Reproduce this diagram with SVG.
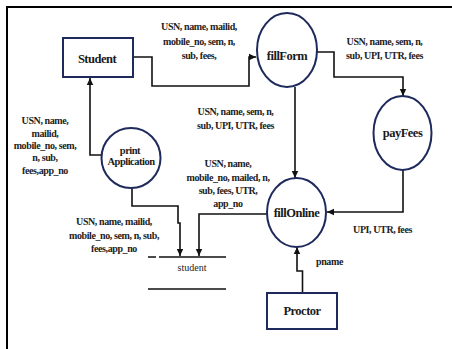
<svg xmlns="http://www.w3.org/2000/svg" width="452" height="349" viewBox="0 0 452 349">
<style>
.frame{stroke:#000;stroke-width:2;fill:none}
.node{fill:#fff;stroke:#1f2a5c;stroke-width:2}
.conn{fill:none;stroke:#111;stroke-width:1.6}
.store{stroke:#111;stroke-width:1.6}
.lbl{font-family:"Liberation Serif",serif;font-weight:bold;font-size:10px;letter-spacing:-0.4px;fill:#222;text-anchor:middle}
.nt{font-family:"Liberation Serif",serif;font-weight:bold;font-size:12.5px;letter-spacing:-0.5px;fill:#1a1a1a;text-anchor:middle}
.nts{font-family:"Liberation Serif",serif;font-weight:bold;font-size:10.5px;letter-spacing:-0.5px;fill:#1a1a1a;text-anchor:middle}
.st{font-family:"Liberation Serif",serif;font-size:10px;fill:#222;text-anchor:middle}
</style>
<defs>
<marker id="arr" markerUnits="userSpaceOnUse" markerWidth="8" markerHeight="8" viewBox="0 0 8 8" refX="7" refY="4" orient="auto">
<path d="M0,0.8 L7,4 L0,7.2 Z" fill="#111"/>
</marker>
</defs>
<rect width="452" height="349" fill="#fff"/>
<path class="frame" d="M7,349 V7 H452"/>

<g id="connectors">
<path class="conn" d="M133,57 H152 V86 H249 V57 H256" marker-end="url(#arr)"/>
<path class="conn" d="M317,52 H334 V77 H403 V96" marker-end="url(#arr)"/>
<path class="conn" d="M295,87 V178" marker-end="url(#arr)"/>
<path class="conn" d="M403,170 V212 H327" marker-end="url(#arr)"/>
<path class="conn" d="M267,214 H199 V256" marker-end="url(#arr)"/>
<path class="conn" d="M132,188 V206 H178 V223 H180 V256" marker-end="url(#arr)"/>
<path class="conn" d="M102,155 H90 V78" marker-end="url(#arr)"/>
<path class="conn" d="M302.5,293 V271 H297 V247" marker-end="url(#arr)"/>
</g>

<g id="Student">
<rect class="node" x="63" y="38" width="70" height="39"/>
<text class="nt" x="97" y="63">Student</text>
</g>
<g id="fillForm">
<ellipse class="node" cx="287" cy="50" rx="30" ry="37"/>
<text class="nt" x="287" y="60">fillForm</text>
</g>
<g id="payFees">
<ellipse class="node" cx="402.5" cy="133" rx="29" ry="37"/>
<text class="nt" x="402.5" y="137">payFees</text>
</g>
<g id="fillOnline">
<ellipse class="node" cx="296.5" cy="212.5" rx="29.5" ry="34.5"/>
<text class="nt" x="296.5" y="217">fillOnline</text>
</g>
<g id="printApplication">
<ellipse class="node" cx="131" cy="158" rx="29.5" ry="30"/>
<text class="nts" x="130" y="154">print</text>
<text class="nts" x="131" y="165">Application</text>
</g>
<g id="Proctor">
<rect class="node" x="267" y="293" width="70" height="36"/>
<text class="nt" x="302" y="315">Proctor</text>
</g>
<g id="studentStore">
<path class="store" d="M148,257 H156 M159,257 H226 M148,289 H226"/>
<text class="st" x="192" y="271">student</text>
</g>

<g id="labels">
<text class="lbl" x="199" y="30">USN, name, mailid,</text>
<text class="lbl" x="199" y="45">mobile_no, sem, n,</text>
<text class="lbl" x="199" y="59">sub, fees,</text>

<text class="lbl" x="384.5" y="45">USN, name, sem, n,</text>
<text class="lbl" x="384.5" y="59">sub, UPI, UTR, fees</text>

<text class="lbl" x="235.5" y="115">USN, name, sem, n,</text>
<text class="lbl" x="235.5" y="129">sub, UPI, UTR, fees</text>

<text class="lbl" x="228" y="167">USN, name,</text>
<text class="lbl" x="228" y="181">mobile_no, mailed, n,</text>
<text class="lbl" x="228" y="194">sub, fees, UTR,</text>
<text class="lbl" x="228" y="207">app_no</text>

<text class="lbl" x="45" y="124">USN, name,</text>
<text class="lbl" x="45" y="137">mailid,</text>
<text class="lbl" x="45" y="149">mobile_no, sem,</text>
<text class="lbl" x="45" y="161">n, sub,</text>
<text class="lbl" x="45" y="174">fees,app_no</text>

<text class="lbl" x="114" y="225">USN, name, mailid,</text>
<text class="lbl" x="114" y="239">mobile_no, sem, n, sub,</text>
<text class="lbl" x="114" y="252">fees,app_no</text>

<text class="lbl" x="382.5" y="233">UPI, UTR, fees</text>
<text class="lbl" x="329.5" y="265">pname</text>
</g>
</svg>
